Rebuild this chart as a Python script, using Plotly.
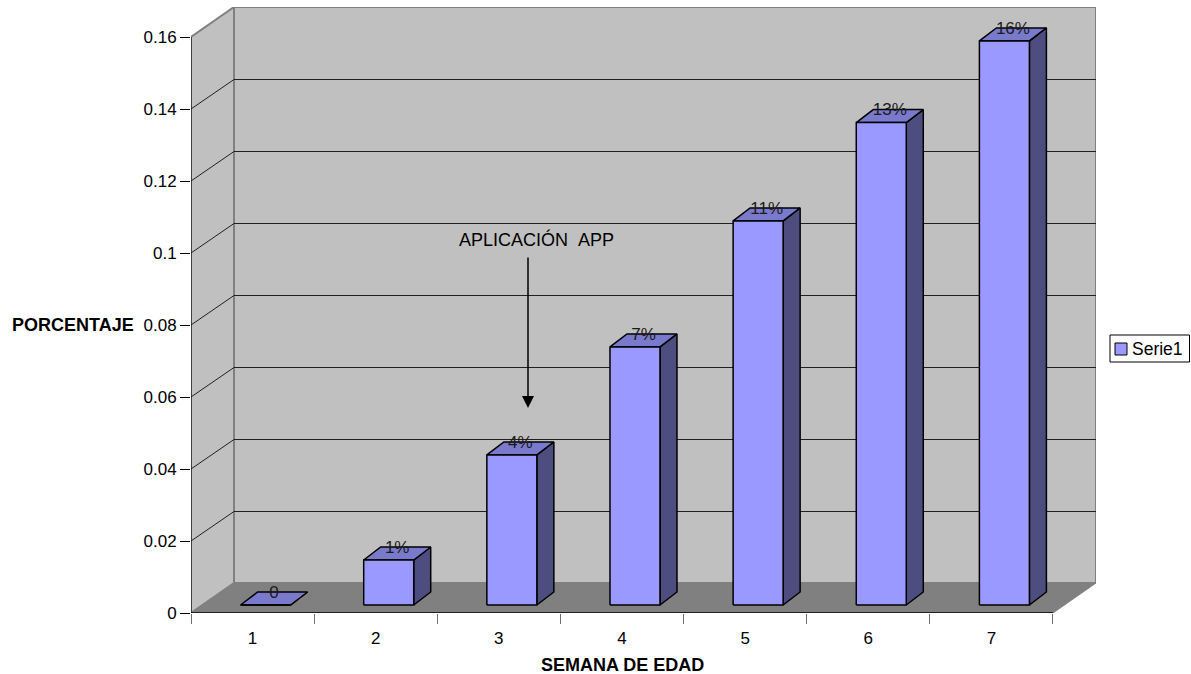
import plotly.graph_objects as go

# Weekly series
semanas = [1, 2, 3, 4, 5, 6, 7]
porcentaje = [0.0, 0.0125, 0.0417, 0.0717, 0.1067, 0.134, 0.1567]
etiquetas = ["0", "1%", "4%", "7%", "11%", "13%", "16%"]
y_ticks = [0, 0.02, 0.04, 0.06, 0.08, 0.1, 0.12, 0.14, 0.16]
y_tick_text = ["0", "0.02", "0.04", "0.06", "0.08", "0.1", "0.12", "0.14", "0.16"]
serie = "Serie1"

FONT = "Liberation Sans"
W, H = 1191, 674
ML, MR, MT, MB = 191, 95, 7, 61
PLOT_W, PLOT_H = W - ML - MR, H - MT - MB

# Axis scale: data units per screen pixel
UX = 1 / 123.14
UY = 1 / 3600

X0, X_END = 0.5, 7.5
X_MAX = X0 + PLOT_W * UX
Y_MAX = PLOT_H * UY

# Oblique projection offsets used for the pseudo-3D box and columns
WALL_DX, WALL_DY = 43 * UX, 30 * UY
FRONT_DX, FRONT_DY = 13 * UX, 8 * UY
BAR_DX, BAR_DY = 17 * UX, 13 * UY
BAR_W = 50 * UX

WALL = "#C0C0C0"
FLOOR = "#808080"
EDGE = "#808080"
FRONT = "#9999FF"
TOP = "#7A7ACC"
SIDE = "#4D4D80"


def px(x):
    return (x - ML) / PLOT_W


def py(y):
    return 1 - (y - MT) / PLOT_H


def poly(points, fill, line=EDGE, width=0):
    path = "M " + " L ".join(f"{x},{y}" for x, y in points) + " Z"
    return dict(type="path", path=path, xref="x", yref="y", fillcolor=fill,
                line=dict(color=line, width=width), layer="below")


def seg(x0, y0, x1, y1, color, width=1):
    return dict(type="line", x0=x0, y0=y0, x1=x1, y1=y1, xref="x", yref="y",
                line=dict(color=color, width=width), layer="below")


def legend_box(x0, y0, x1, y1, fill, width):
    return dict(type="rect", xref="paper", yref="paper", x0=px(x0), x1=px(x1),
                y0=py(y0), y1=py(y1), fillcolor=fill,
                line=dict(color="#000000", width=width))


y_top = y_ticks[-1]
shapes = [
    # left wall, back wall and floor
    poly([(X0, 0), (X0 + WALL_DX, WALL_DY), (X0 + WALL_DX, y_top + WALL_DY), (X0, y_top)], WALL, EDGE, 2),
    poly([(X0 + WALL_DX, WALL_DY), (X_END + WALL_DX, WALL_DY),
          (X_END + WALL_DX, y_top + WALL_DY), (X0 + WALL_DX, y_top + WALL_DY)], WALL, EDGE, 2),
    poly([(X0, 0), (X0 + WALL_DX, WALL_DY), (X_END + WALL_DX, WALL_DY), (X_END, 0)], FLOOR, EDGE, 1),
]
# half-pixel nudge keeps the horizontal gridlines on a single pixel row
NUDGE = 0.5 * UY
for t in y_ticks[1:-1]:
    shapes.append(seg(X0, t, X0 + WALL_DX, t + WALL_DY - NUDGE, "#202020"))
    shapes.append(seg(X0 + WALL_DX, t + WALL_DY - NUDGE, X_END + WALL_DX, t + WALL_DY - NUDGE, "#202020"))
# axis lines
shapes.append(seg(X0, 0, X0, y_top, "#000000", 1))
shapes.append(seg(X0, 0, X_END, 0, "#000000", 1.5))
# legend frame and swatch
shapes.append(legend_box(1110, 335, 1189.5, 362, "#FFFFFF", 1))
shapes.append(legend_box(1115, 343, 1127, 355, FRONT, 1))

front_x, front_y, top_x, top_y, side_x, side_y = [], [], [], [], [], []
label_x, label_y = [], []
for s, v in zip(semanas, porcentaje):
    xl = s + FRONT_DX - BAR_W / 2
    xr = xl + BAR_W
    y0 = FRONT_DY
    y1 = FRONT_DY + v
    front_x += [xl, xr, xr, xl, xl, None]
    front_y += [y0, y0, y1, y1, y0, None]
    top_x += [xl, xr, xr + BAR_DX, xl + BAR_DX, xl, None]
    top_y += [y1, y1, y1 + BAR_DY, y1 + BAR_DY, y1, None]
    side_x += [xr, xr + BAR_DX, xr + BAR_DX, xr, xr, None]
    side_y += [y0, y0 + BAR_DY, y1 + BAR_DY, y1, y0, None]
    label_x.append(s + FRONT_DX + BAR_DX / 2)
    label_y.append(y1 + BAR_DY - 1.5 * UY)

outline = dict(color="#000000", width=1.5)
fig = go.Figure()
for xs, ys, color, name in [(side_x, side_y, SIDE, "lateral"), (top_x, top_y, TOP, "superior"),
                            (front_x, front_y, FRONT, serie)]:
    fig.add_trace(go.Scatter(x=xs, y=ys, mode="lines", fill="toself", fillcolor=color,
                             name=name, line=outline, showlegend=False, hoverinfo="skip"))

fig.add_trace(go.Scatter(x=label_x, y=label_y, mode="text", text=etiquetas,
                         textposition="middle center", cliponaxis=False, showlegend=False,
                         textfont=dict(family=FONT, size=17, color="#1A1A1A")))

fig.update_layout(
    width=W, height=H, autosize=False, showlegend=False,
    margin=dict(l=ML, r=MR, t=MT, b=MB, pad=0),
    paper_bgcolor="#FFFFFF", plot_bgcolor="#FFFFFF",
    font=dict(family=FONT, size=17, color="#000000"),
    shapes=shapes,
    xaxis=dict(range=[X0, X_MAX], showgrid=False, zeroline=False, showline=False,
               tickmode="array", tickvals=semanas, ticks="", ticklen=0, ticklabelstandoff=13,
               minor=dict(ticks="outside", ticklen=10, tickwidth=1, tickcolor="#707070",
                          tick0=0.5, dtick=1, showgrid=False)),
    yaxis=dict(range=[0, Y_MAX], showgrid=False, zeroline=False, showline=False,
               tickmode="array", tickvals=y_ticks, ticktext=y_tick_text,
               ticks="outside", ticklen=10, tickwidth=1, tickcolor="#000000"),
    annotations=[
        dict(text="<b>PORCENTAJE</b>", xref="paper", yref="paper", xanchor="center", yanchor="middle",
             x=px(72.5), y=py(325), showarrow=False, font=dict(family=FONT, size=18)),
        dict(text="<b>SEMANA DE EDAD</b>", xref="paper", yref="paper", xanchor="center", yanchor="middle",
             x=px(622), y=py(665), showarrow=False, font=dict(family=FONT, size=18)),
        dict(text="APLICACIÓN\u00a0\u00a0APP", xref="x", yref="y", xanchor="center", yanchor="middle",
             x=X0 + (536.5 - ML) * UX, y=(H - MB - 239) * UY, showarrow=False,
             font=dict(family=FONT, size=18)),
        dict(text="", xref="x", yref="y", axref="x", ayref="y",
             x=X0 + (528 - ML) * UX, y=(H - MB - 408) * UY,
             ax=X0 + (528 - ML) * UX, ay=(H - MB - 256) * UY,
             showarrow=True, arrowhead=2, arrowsize=1.6, arrowwidth=1.5, arrowcolor="#000000"),
        dict(text=serie, xref="paper", yref="paper", x=px(1130), y=py(349), xanchor="left", yanchor="middle",
             showarrow=False, font=dict(family=FONT, size=17.5)),
    ],
)

fig.write_html("out.html")
